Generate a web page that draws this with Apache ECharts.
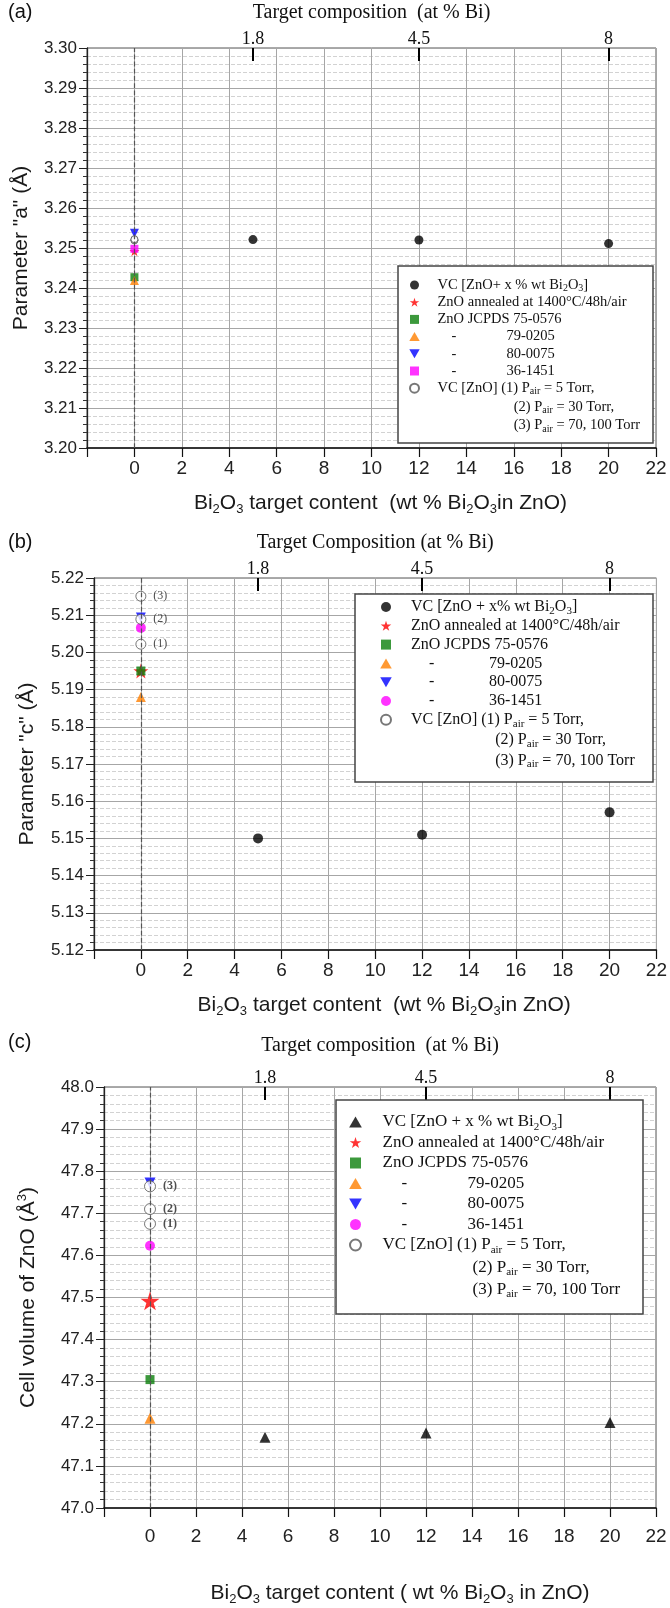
<!DOCTYPE html>
<html>
<head>
<meta charset="utf-8">
<script src="https://cdn.jsdelivr.net/npm/echarts@6/dist/echarts.min.js"></script>
<style>
  html, body { margin: 0; padding: 0; background: #fff; }
  #chart { width: 670px; height: 1608px; }
</style>
</head>
<body>
<div id="chart"></div>
<script>
// ---- data -------------------------------------------------------------
// Bi2O3 content of the doped targets (wt %) and the equivalent at % Bi
const dopedWt = [5, 12, 20];
const targetAtBi = ['1.8', '4.5', '8'];
// tags for the undoped VC films, lowest to highest value
const vcZnoTags = ['(1)', '(2)', '(3)'];

// (a) lattice parameter a (Å)
const aDoped = [3.2521, 3.2520, 3.2511];
const aAnnealed = [3.2492];
const aJcpds750576 = [3.2427];
const aJcpds790205 = [3.2419];
const aJcpds800075 = [3.2537];
const aJcpds361451 = [3.2498];
const aVcZno = [3.2519, 3.2520, 3.2522];

// (b) lattice parameter c (Å)
const cDoped = [5.1500, 5.1510, 5.1570];
const cAnnealed = [5.1950];
const cJcpds750576 = [5.1950];
const cJcpds790205 = [5.1880];
const cJcpds800075 = [5.2094];
const cJcpds361451 = [5.2066];
const cVcZno = [5.2022, 5.2089, 5.2151];

// (c) unit cell volume (Å^3)
const vDoped = [47.168, 47.178, 47.203];
const vAnnealed = [47.492];
const vJcpds750576 = [47.305];
const vJcpds790205 = [47.213];
const vJcpds800075 = [47.772];
const vJcpds361451 = [47.623];
const vVcZno = [47.675, 47.710, 47.764];

// ---- styling helpers --------------------------------------------------
const SANS = "'Liberation Sans', Arial, sans-serif";
const SERIF = "'Liberation Serif', 'Times New Roman', serif";

const STAR = 'path://M50,0L61.23,34.55L97.55,34.55L68.16,55.9L79.39,90.45L50,69.1L20.61,90.45L31.84,55.9L2.45,34.55L38.77,34.55Z';
const TRI_UP = 'path://M5,0L10,8.66L0,8.66Z';
const TRI_DOWN = 'path://M0,0L10,0L5,8.66Z';
const SQUARE = 'path://M0,0L10,0L10,10L0,10Z';

function measure(str, font) {
  const ctx = document.createElement('canvas').getContext('2d');
  ctx.font = font;
  return ctx.measureText(str).width;
}

const panels = [
  {
    tag: '(a)', tagOff: 36,
    grid: { left: 87, right: 14, top: 48, height: 400 },
    y: { min: 3.20, max: 3.30, step: 0.01, dec: 2 },
    yName: 'Parameter "a" (Å)', yNameGap: 54,
    xName: 'Bi{s|2}O{s|3} target content  (wt % Bi{s|2}O{s|3}in ZnO)', xNameShift: 9, xNameGap: 42, xLabelMargin: 11,
    topName: 'Target composition  (at % Bi)', topGap: 25,
    series: { doped: aDoped, annealed: aAnnealed, j750576: aJcpds750576, j790205: aJcpds790205,
              j800075: aJcpds800075, j361451: aJcpds361451, vc: aVcZno },
    dopedSymbol: 'circle', magentaSymbol: SQUARE,
    size: { doped: 9, star: 10, sq: 8, tri: 9, mag: 8, vc: 7 },
    vcLabels: false,
    legend: { boxLeft: 398, boxRight: 653, boxTopOff: 218, boxH: 177, firstRow: 19, rowH: 17.2,
              iconX: 427, fs: 14.5, iconW: 36, iconH: 9, dashPad: 14, numStart: 69,
              first: 'VC [ZnO+ x % wt Bi{s|2}O{s|3}]' }
  },
  {
    tag: '(b)', tagOff: 36,
    grid: { left: 94, right: 12, top: 578, height: 372 },
    y: { min: 5.12, max: 5.22, step: 0.01, dec: 2 },
    yName: 'Parameter "c" (Å)', yNameGap: 55,
    xName: 'Bi{s|2}O{s|3} target content  (wt % Bi{s|2}O{s|3}in ZnO)', xNameShift: 9, xNameGap: 42, xLabelMargin: 11,
    topName: 'Target Composition (at % Bi)', topGap: 25,
    series: { doped: cDoped, annealed: cAnnealed, j750576: cJcpds750576, j790205: cJcpds790205,
              j800075: cJcpds800075, j361451: cJcpds361451, vc: cVcZno },
    dopedSymbol: 'circle', magentaSymbol: 'circle',
    size: { doped: 10, star: 15, sq: 9, tri: 10, mag: 10, vc: 10 },
    vcLabels: true, vcBold: false,
    legend: { boxLeft: 355, boxRight: 653, boxTopOff: 16, boxH: 188, firstRow: 13, rowH: 18.8,
              iconX: 400, fs: 16, iconW: 40, iconH: 10, dashPad: 18, numStart: 78,
              first: 'VC [ZnO + x% wt Bi{s|2}O{s|3}]' }
  },
  {
    tag: '(c)', tagOff: 45,
    grid: { left: 104, right: 14, top: 1087, height: 421 },
    y: { min: 47.0, max: 48.0, step: 0.1, dec: 1 },
    yName: 'Cell volume of ZnO (Å{p|3})', yNameGap: 64,
    xName: 'Bi{s|2}O{s|3} target content ( wt % Bi{s|2}O{s|3} in ZnO)', xNameShift: 20, xNameGap: 72, xLabelMargin: 19,
    topName: 'Target composition  (at % Bi)', topGap: 31,
    series: { doped: vDoped, annealed: vAnnealed, j750576: vJcpds750576, j790205: vJcpds790205,
              j800075: vJcpds800075, j361451: vJcpds361451, vc: vVcZno },
    dopedSymbol: TRI_UP, magentaSymbol: 'circle',
    size: { doped: 11, star: 19, sq: 9, tri: 11, mag: 10, vc: 11 },
    vcLabels: true, vcBold: true,
    legend: { boxLeft: 336, boxRight: 643, boxTopOff: 13, boxH: 214, firstRow: 22, rowH: 20.5,
              iconX: 371, fs: 17, iconW: 44, iconH: 11, dashPad: 19, numStart: 85,
              first: 'VC [ZnO + x % wt Bi{s|2}O{s|3}]' }
  }
];

const legendRows = (first) => [
  first,
  'ZnO annealed at 1400°C/48h/air',
  'ZnO JCPDS 75-0576',
  '{d|-}{n|79-0205}',
  '{d|-}{n|80-0075}',
  '{d|-}{n|36-1451}',
  'VC [ZnO] (1) P{air|air} = 5 Torr,'
];
const continuation = ['(2) P{air|air} = 30 Torr,', '(3) P{air|air} = 70, 100 Torr'];

const grids = [], xAxes = [], yAxes = [], legends = [], series = [], graphics = [];

panels.forEach((p, i) => {
  const g = p.grid;
  grids.push({ left: g.left, right: g.right, top: g.top, height: g.height,
               show: true, borderColor: '#555', borderWidth: 1, backgroundColor: 'transparent' });

  // bottom axis: wt % Bi2O3
  xAxes.push({
    type: 'value', gridIndex: i, position: 'bottom', min: -2, max: 22, interval: 2,
    axisLine: { show: true, onZero: false, lineStyle: { color: '#111', width: 1.6 } },
    axisTick: { show: true, length: 9, lineStyle: { color: '#111', width: 1.2 } },
    axisLabel: { formatter: v => (v < 0 ? '' : String(v)), fontFamily: SANS, fontSize: 19, color: '#222', margin: p.xLabelMargin },
    splitLine: { show: true, lineStyle: { color: '#a6a6a6', width: 1 } },
    name: p.xName, nameLocation: 'middle', nameGap: p.xNameGap,
    nameTextStyle: {
      fontFamily: SANS, fontSize: 21, color: '#1a1a1a', lineHeight: 26,
      padding: [0, 0, 0, p.xNameShift * 2],
      rich: { s: { fontFamily: SANS, fontSize: 13, color: '#1a1a1a', verticalAlign: 'bottom', lineHeight: 17 } }
    }
  });

  // top axis: equivalent at % Bi at the doped target positions
  xAxes.push({
    type: 'value', gridIndex: i, position: 'top', min: -2, max: 22,
    axisLine: { show: false },
    axisTick: { show: true, inside: true, length: 13, customValues: dopedWt, lineStyle: { color: '#000', width: 2 } },
    axisLabel: { show: true, customValues: dopedWt, formatter: v => targetAtBi[dopedWt.indexOf(v)],
                 fontFamily: SERIF, fontSize: 18, color: '#111', margin: 0 },
    splitLine: { show: false },
    name: p.topName, nameLocation: 'middle', nameGap: p.topGap,
    nameTextStyle: { fontFamily: SERIF, fontSize: 20, color: '#111' }
  });

  yAxes.push({
    type: 'value', gridIndex: i, min: p.y.min, max: p.y.max, interval: p.y.step,
    axisLine: { show: true, onZero: false, lineStyle: { color: '#222', width: 1.3 } },
    axisTick: { show: true, length: 8, lineStyle: { color: '#222', width: 1 } },
    minorTick: { show: true, splitNumber: 5, length: 4, lineStyle: { color: '#333', width: 1 } },
    axisLabel: { formatter: v => v.toFixed(p.y.dec), fontFamily: SANS, fontSize: 17, color: '#222', margin: 10 },
    splitLine: { show: true, lineStyle: { color: '#a6a6a6', width: 1 } },
    minorSplitLine: { show: true, lineStyle: { color: '#d2d2d2', width: 1, type: 'dashed' } },
    name: p.yName, nameLocation: 'middle', nameGap: p.yNameGap,
    nameTextStyle: {
      fontFamily: SANS, fontSize: 21, color: '#1a1a1a', lineHeight: 24,
      rich: { p: { fontFamily: SANS, fontSize: 13, color: '#1a1a1a', verticalAlign: 'top', lineHeight: 10 } }
    }
  });

  const xi = i * 2, yi = i;
  const s = p.series, z = p.size;
  const nm = k => p.tag + k;
  const atZero = arr => arr.map(v => [0, v]);

  series.push({
    name: nm('doped'), type: 'scatter', xAxisIndex: xi, yAxisIndex: yi,
    symbol: p.dopedSymbol, symbolSize: z.doped, itemStyle: { color: '#000' },
    data: dopedWt.map((x, k) => [x, s.doped[k]]),
    markLine: { silent: true, symbol: ['none', 'none'], label: { show: false },
                lineStyle: { type: 'dashed', color: '#555', width: 1.2 }, data: [{ xAxis: 0 }] }
  });
  series.push({ name: nm('annealed'), type: 'scatter', xAxisIndex: xi, yAxisIndex: yi,
    symbol: STAR, symbolSize: z.star, itemStyle: { color: '#ff0000' }, data: atZero(s.annealed) });
  series.push({ name: nm('j750576'), type: 'scatter', xAxisIndex: xi, yAxisIndex: yi,
    symbol: SQUARE, symbolSize: z.sq, itemStyle: { color: '#0b800b' }, data: atZero(s.j750576) });
  series.push({ name: nm('j790205'), type: 'scatter', xAxisIndex: xi, yAxisIndex: yi,
    symbol: TRI_UP, symbolSize: z.tri, itemStyle: { color: '#ff8000' }, data: atZero(s.j790205) });
  series.push({ name: nm('j800075'), type: 'scatter', xAxisIndex: xi, yAxisIndex: yi,
    symbol: TRI_DOWN, symbolSize: z.tri, itemStyle: { color: '#0000ff' }, data: atZero(s.j800075) });
  series.push({ name: nm('j361451'), type: 'scatter', xAxisIndex: xi, yAxisIndex: yi,
    symbol: p.magentaSymbol, symbolSize: z.mag, itemStyle: { color: '#ff00ff' }, data: atZero(s.j361451) });
  series.push({ name: nm('vc'), type: 'scatter', xAxisIndex: xi, yAxisIndex: yi,
    symbol: 'circle', symbolSize: z.vc,
    itemStyle: { color: '#fff', borderColor: '#555', borderWidth: 1 },
    label: { show: p.vcLabels, position: 'right', distance: 7, formatter: q => vcZnoTags[q.dataIndex],
             fontFamily: SERIF, fontSize: 12, color: '#222', fontWeight: p.vcBold ? 'bold' : 'normal' },
    data: atZero(s.vc) });

  // legend: items via the legend component, frame and wrapped lines via graphic
  const L = p.legend;
  const boxTop = g.top + L.boxTopOff;
  const rows = legendRows(L.first);
  const keys = ['doped', 'annealed', 'j750576', 'j790205', 'j800075', 'j361451', 'vc'];
  const textMap = {};
  keys.forEach((k, r) => { textMap[nm(k)] = rows[r]; });
  const iconLeft = L.iconX - L.iconW / 2;
  const firstCenter = boxTop + L.firstRow;
  const dashW = measure('-', `${L.fs}px ${SERIF}`);
  const richCommon = {
    s: { fontFamily: SERIF, fontSize: Math.round(L.fs * 0.66), color: '#111', verticalAlign: 'bottom', lineHeight: L.fs * 0.55 },
    air: { fontFamily: SERIF, fontSize: Math.round(L.fs * 0.66), color: '#111', verticalAlign: 'bottom', lineHeight: L.fs * 0.4 },
    d: { fontFamily: SERIF, fontSize: L.fs, color: '#111', lineHeight: L.rowH, padding: [0, 0, 0, L.dashPad] },
    n: { fontFamily: SERIF, fontSize: L.fs, color: '#111', lineHeight: L.rowH,
         padding: [0, 0, 0, L.numStart - L.dashPad - dashW] }
  };
  legends.push({
    orient: 'vertical', left: iconLeft, top: firstCenter - L.rowH / 2, padding: 0,
    itemGap: 0, itemWidth: L.iconW, itemHeight: L.iconH, selectedMode: false, z: 6,
    data: keys.map(k => nm(k)),
    formatter: name => textMap[name],
    textStyle: { fontFamily: SERIF, fontSize: L.fs, color: '#111', lineHeight: L.rowH, rich: richCommon }
  });

  graphics.push({
    type: 'rect', z: 3,
    shape: { x: L.boxLeft, y: boxTop, width: L.boxRight - L.boxLeft, height: L.boxH },
    style: { fill: '#fff', stroke: '#444', lineWidth: 1.5 }
  });
  const textStart = iconLeft + L.iconW + 5;
  const contX = textStart + measure('VC [ZnO] ', `${L.fs}px ${SERIF}`);
  continuation.forEach((t, r) => {
    graphics.push({
      type: 'text', z: 7, x: contX, y: firstCenter + L.rowH * (6 + (r + 1) * 1.08),
      style: { text: t, fontFamily: SERIF, fontSize: L.fs, fill: '#111',
               verticalAlign: 'middle', align: 'left', lineHeight: L.rowH, rich: richCommon }
    });
  });

  // panel tag
  graphics.push({
    type: 'text', z: 7, x: 8, y: g.top - p.tagOff,
    style: { text: p.tag, fontFamily: SANS, fontSize: 20, fill: '#111', verticalAlign: 'middle', align: 'left' }
  });
});

const chart = echarts.init(document.getElementById('chart'), null, { renderer: 'canvas' });
chart.setOption({
  animation: false,
  backgroundColor: '#fff',
  grid: grids,
  xAxis: xAxes,
  yAxis: yAxes,
  legend: legends,
  series: series,
  graphic: graphics
});
</script>
</body>
</html>
